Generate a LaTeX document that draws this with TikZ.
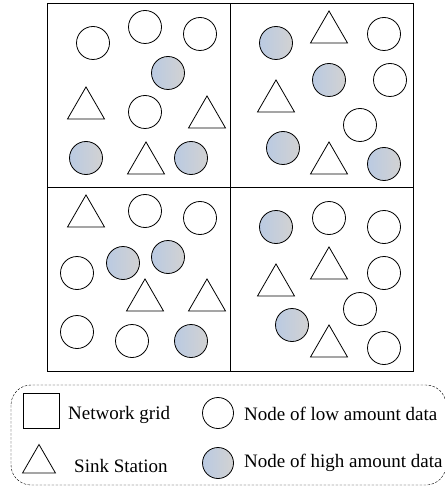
\documentclass[tikz,border=0pt]{standalone}
\usepackage{fontspec}
\setmainfont{Liberation Serif}
\usetikzlibrary{shapes.geometric}
\definecolor{hiblue}{RGB}{186,202,226}
\definecolor{higray}{RGB}{210,210,210}
\tikzset{
 lownode/.style={draw,circle,fill=white,inner sep=0pt,minimum size=33pt,line width=0.8pt},
 highnode/.style={lownode,left color=hiblue,right color=higray},
 sinknode/.style={draw,regular polygon,regular polygon sides=3,inner sep=0pt,minimum size=42.7pt,line width=0.8pt},
 legtext/.style={anchor=base west,inner sep=0pt,font=\fontsize{19}{22}\selectfont}
}

\begin{document}
\begin{tikzpicture}[x=1pt,y=-1pt]
\useasboundingbox (0,0) rectangle (444,486);
% network grid
\draw[line width=1pt] (47,4) rectangle (413,371);
\draw[line width=1pt] (230,4) -- (230,371) (47,187) -- (413,187);

% nodes of low amount data
\foreach \x/\y [count=\i] in {93/43,145/27,200/34,145/112,384/34,390/80,360/125,
  145/211,200/218,77/273,77/332,132/341,329/218,384/227,384/273,360/309,384/348}
 \node[lownode] (low\i) at (\x,\y) {};

% nodes of high amount data
\foreach \x/\y [count=\i] in {168/73,86/158,191/158,276/43,329/80,283/148,384/164,
  123/263,168/257,191/341,276/227,292/325}
 \node[highnode] (high\i) at (\x,\y) {};

% sink stations
\foreach \x/\y [count=\i] in {86/108.3,207/117.3,146/163.3,329/32.3,276/101.3,329/163.3,
  86/216.3,145/300.3,207/300.3,276/285.3,329/268.3,329/346.3}
 \node[sinknode] (sink\i) at (\x,\y) {};

% legend
\draw[dash pattern=on 2.5pt off 1.5pt,rounded corners=20pt] (11,385) rectangle (446,485);
\node[draw,line width=0.8pt,minimum width=36pt,minimum height=35pt] (leggrid) at (41,410.5) {};
\node[sinknode,minimum size=38pt] (legsink) at (39,463.5) {};
\node[lownode,minimum size=31pt] (leglow) at (218,413) {};
\node[highnode,minimum size=31pt] (leghigh) at (218,463) {};
\node[legtext] (txtgrid) at (68,419) {Network grid};
\node[legtext] (txtsink) at (74,472) {Sink Station};
\node[legtext] (txtlow) at (244,420) {Node of low amount data};
\node[legtext] (txthigh) at (244,467) {Node of high amount data};
\end{tikzpicture}
\end{document}
